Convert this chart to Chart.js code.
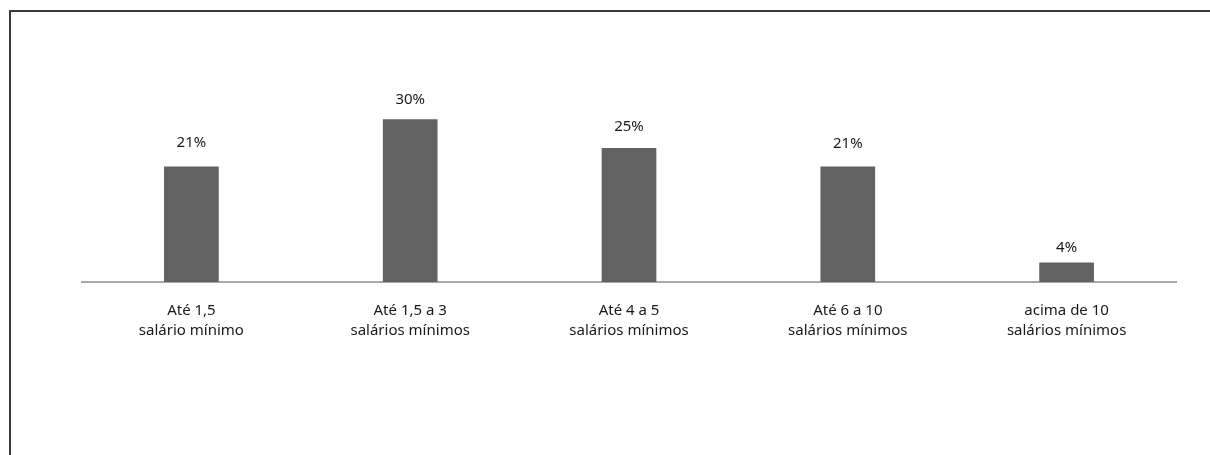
<!DOCTYPE html>
<html>
<head>
<meta charset="utf-8">
<script src="https://cdn.jsdelivr.net/npm/chart.js@4"></script>
<style>
  html, body { margin: 0; padding: 0; background: #fff; }
  #wrap { position: relative; width: 1210px; height: 455px; overflow: hidden; }
  #frame { position: absolute; left: 9px; top: 10px; width: 1300px; height: 500px;
           border-top: 2px solid #3a3a3a; border-left: 2px solid #3a3a3a; }
  canvas { position: absolute; left: 0; top: 0; }
</style>
</head>
<body>
<div id="wrap">
  <div id="frame"></div>
  <canvas id="cv" width="1210" height="455"></canvas>
</div>
<script>
  const categories = [
    ["Até 1,5", "salário mínimo"],
    ["Até 1,5 a 3", "salários mínimos"],
    ["Até 4 a 5", "salários mínimos"],
    ["Até 6 a 10", "salários mínimos"],
    ["acima de 10", "salários mínimos"]
  ];
  // bar heights (labels are the rounded figures)
  const shares = [21.3, 30, 24.7, 21.3, 3.6];
  const valueLabels = ["21%", "30%", "25%", "21%", "4%"];

  const FONT = "'Noto Sans', 'Open Sans', sans-serif";

  // draws the % text over each bar
  const topLabels = {
    id: "topLabels",
    afterDatasetsDraw(chart, args, opts) {
      const { ctx } = chart;
      const meta = chart.getDatasetMeta(0);
      ctx.save();
      ctx.font = "15px " + FONT;
      ctx.fillStyle = "#1a1a1a";
      ctx.textAlign = "center";
      ctx.textBaseline = "middle";
      meta.data.forEach((bar, i) => {
        ctx.fillText(valueLabels[i], bar.x, bar.y - opts.gaps[i]);
      });
      ctx.restore();
    }
  };

  new Chart(document.getElementById("cv"), {
    type: "bar",
    data: {
      labels: categories,
      datasets: [{
        data: shares,
        backgroundColor: "#626262",
        borderWidth: 0,
        categoryPercentage: 1,
        barPercentage: 0.25
      }]
    },
    options: {
      responsive: false,
      animation: false,
      layout: { padding: { top: 65, left: 82, right: 34, bottom: 0 } },
      plugins: {
        legend: { display: false },
        tooltip: { enabled: false },
        topLabels: { gaps: [24, 20, 21, 23, 14.5] }
      },
      scales: {
        x: {
          grid: { display: false },
          border: { display: true, color: "#a8a8a8", width: 2 },
          ticks: {
            color: "#1a1a1a",
            font: { family: FONT, size: 15, lineHeight: "20px" },
            padding: 11,
            maxRotation: 0
          },
          afterFit(scale) { scale.height = 173; }
        },
        y: {
          display: false,
          min: 0,
          max: 40
        }
      }
    },
    plugins: [topLabels]
  });
</script>
</body>
</html>
